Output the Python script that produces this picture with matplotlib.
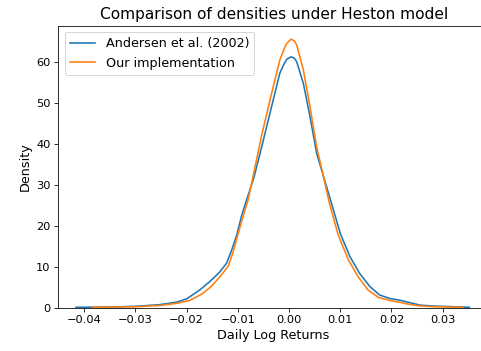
import matplotlib
matplotlib.use("Agg")
import matplotlib.pyplot as plt

# Andersen et al. (2002) density curve
blue_x = [-0.0416, -0.035, -0.0298, -0.0252, -0.022, -0.020, -0.0174, -0.0154, -0.0135,
          -0.0122, -0.0112, -0.0102, -0.0093, -0.0083, -0.0069, -0.0050, -0.0031, -0.0018,
          -0.0010, -0.00045, 0.0004, 0.0010, 0.0015, 0.0028, 0.0041, 0.0054, 0.0065, 0.0083,
          0.0100, 0.0119, 0.0138, 0.0158, 0.0177, 0.0197, 0.0216, 0.0229, 0.0255, 0.0282,
          0.0308, 0.0352]
blue_y = [0.05, 0.12, 0.3, 0.7, 1.3, 2.1, 4.3, 6.4, 8.7,
          10.8, 14.0, 17.7, 22.2, 26.2, 31.5, 40.9, 50.6, 57.2,
          59.4, 60.6, 61.2, 60.9, 60.0, 54.7, 46.6, 37.6, 33.0, 25.4,
          18.1, 12.4, 8.3, 5.1, 3.05, 2.2, 1.8, 1.4, 0.6, 0.35,
          0.25, 0.05]

# Our implementation density curve
orange_x = [-0.0383, -0.0298, -0.0252, -0.022, -0.0194, -0.0170, -0.0152, -0.0135, -0.0119,
            -0.0109, -0.0100, -0.0090, -0.0080, -0.0071, -0.0054, -0.0034, -0.0018, -0.0010,
            -0.00045, 0.0004, 0.0010, 0.0015, 0.0028, 0.0041, 0.0054, 0.0068, 0.0079, 0.0096,
            0.0116, 0.0135, 0.0154, 0.0174, 0.0197, 0.0216, 0.0229, 0.0255, 0.0282, 0.0340]
orange_y = [0.05, 0.2, 0.5, 1.0, 1.7, 3.3, 5.1, 7.5, 10.0,
            13.6, 17.7, 22.2, 26.2, 31.5, 41.7, 52.3, 60.4, 63.0,
            64.5, 65.5, 65.1, 64.1, 58.0, 49.0, 39.2, 31.5, 25.4, 17.7,
            11.6, 7.5, 4.3, 2.5, 1.7, 1.3, 0.9, 0.4, 0.2, 0.05]

labels = ["Andersen et al. (2002)", "Our implementation"]
yticks = [0, 10, 20, 30, 40, 50, 60]
xticks = [-0.04, -0.03, -0.02, -0.01, 0.00, 0.01, 0.02, 0.03]

fig = plt.figure(figsize=(481 / 72, 351 / 72), dpi=72)
ax = fig.add_axes([58.3 / 481, 0.1239, (489 - 58.3) / 481, 0.9268 - 0.1239])

ax.plot(blue_x, blue_y, color="tab:blue", lw=1.6, label=labels[0])
ax.plot(orange_x, orange_y, color="tab:orange", lw=1.6, label=labels[1])

ax.set_xlim(-0.04504, 0.03904)
ax.set_ylim(0, 68.8)
ax.set_xticks(xticks)
ax.set_xticklabels([f"{t:.2f}".replace("-", "\u2212") for t in xticks])
ax.set_yticks(yticks)
ax.tick_params(labelsize=11.4, length=3.8, pad=3.8)
ax.set_xlabel("Daily Log Returns", fontsize=12.7)
ax.set_ylabel("Density", fontsize=12.7)
ax.set_title("Comparison of densities under Heston model", fontsize=15.4, pad=6.5)
ax.legend(loc="upper left", fontsize=12.8)

fig.savefig("out.png", dpi=72)
